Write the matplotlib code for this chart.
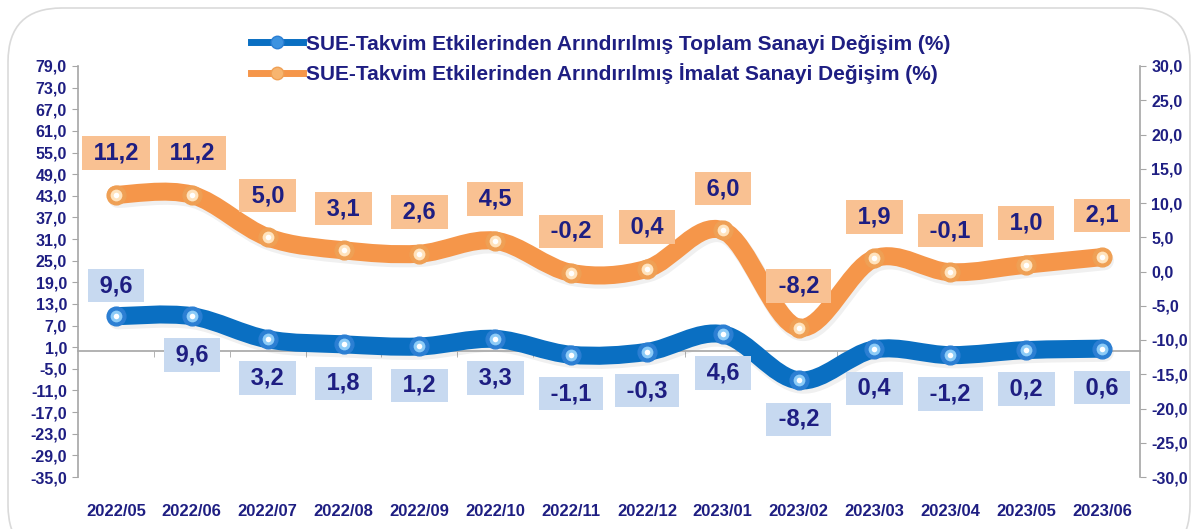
import matplotlib
matplotlib.use("Agg")
import matplotlib.pyplot as plt
import numpy as np
from matplotlib.path import Path
from matplotlib.patches import PathPatch, FancyBboxPatch
from matplotlib.lines import Line2D
from matplotlib.ticker import FuncFormatter, FixedLocator
import matplotlib.transforms as mtransforms

# ---------------- data ----------------
months = ["2022/05", "2022/06", "2022/07", "2022/08", "2022/09", "2022/10", "2022/11",
          "2022/12", "2023/01", "2023/02", "2023/03", "2023/04", "2023/05", "2023/06"]
toplam = [9.6, 9.6, 3.2, 1.8, 1.2, 3.3, -1.1, -0.3, 4.6, -8.2, 0.4, -1.2, 0.2, 0.6]
imalat = [11.2, 11.2, 5.0, 3.1, 2.6, 4.5, -0.2, 0.4, 6.0, -8.2, 1.9, -0.1, 1.0, 2.1]
label_toplam = "SUE-Takvim Etkilerinden Arındırılmış Toplam Sanayi Değişim (%)"
label_imalat = "SUE-Takvim Etkilerinden Arındırılmış İmalat Sanayi Değişim (%)"
left_ticks = list(range(-35, 80, 6))
right_ticks = list(range(-30, 31, 5))
# label placement: +1 above point, -1 below point
toplam_side = [1] + [-1] * 13

# ---------------- style ----------------
FONT = "Liberation Sans"
NAVY = "#1E1E82"
BLUE = "#0A6FC2"
ORANGE = "#F5964A"
BLUE_BOX = "#C7D9F0"
ORANGE_BOX = "#F9C192"
GRID_GRAY = "#A6A6A6"

plt.rcParams["font.family"] = [FONT, "DejaVu Sans"]

W, H = 1198, 529
fig = plt.figure(figsize=(W / 100, H / 100), dpi=100)
fig.patch.set_facecolor("white")

# rounded outer frame (top corners visible, bottom runs off the image)
frame = FancyBboxPatch((8 / W, -30 / H), (W - 16) / W, (H - 8 + 30) / H,
                       boxstyle="round,pad=0,rounding_size=0.045",
                       transform=fig.transFigure, fc="none", ec="#DADADA", lw=1.2,
                       mutation_aspect=W / H, zorder=-5)
fig.patches.append(frame)

ax = fig.add_axes([78 / W, 1 - 477 / H, (1140 - 78) / W, (477 - 66) / H])
ax.set_facecolor("none")
ax2 = ax.twinx()

x = np.arange(len(months))
ax.set_xlim(-0.5, len(months) - 0.5)
ax.set_ylim(-35, 79)
ax2.set_ylim(-30, 30)

fmt = FuncFormatter(lambda v, p: f"{v:.1f}".replace(".", ","))
ax.yaxis.set_major_locator(FixedLocator(left_ticks))
ax.yaxis.set_major_formatter(fmt)
ax2.yaxis.set_major_locator(FixedLocator(right_ticks))
ax2.yaxis.set_major_formatter(fmt)

for a in (ax, ax2):
    for s in a.spines.values():
        s.set_visible(False)
ax.spines["left"].set_visible(True)
ax.spines["left"].set_color(GRID_GRAY)
ax.spines["left"].set_linewidth(1.2)
ax2.spines["right"].set_visible(True)
ax2.spines["right"].set_color(GRID_GRAY)
ax2.spines["right"].set_linewidth(1.2)
ax.spines["bottom"].set_visible(True)
ax.spines["bottom"].set_position(("data", 0))
ax.spines["bottom"].set_color(GRID_GRAY)
ax.spines["bottom"].set_linewidth(1.2)

ax.tick_params(axis="y", length=4, color=GRID_GRAY, labelcolor=NAVY, pad=4)
ax2.tick_params(axis="y", length=4, color=GRID_GRAY, labelcolor=NAVY, pad=4)
for lbl in ax.get_yticklabels() + ax2.get_yticklabels():
    lbl.set_fontweight("bold")
    lbl.set_fontsize(11.5)
ax.set_xticks(x)
ax.set_xticklabels([])
ax.tick_params(axis="x", which="major", length=0)
ax.xaxis.set_minor_locator(FixedLocator(np.arange(0.5, len(months) - 1, 1.0)))
ax.tick_params(axis="x", which="minor", length=4, color=GRID_GRAY, direction="out")

# x category labels at bottom
trans = mtransforms.blended_transform_factory(ax.transData, ax.transAxes)
for xi, m in zip(x, months):
    ax.text(xi, -0.085, m, transform=trans, ha="center", va="center",
            color=NAVY, fontsize=12, fontweight="bold")


def smooth_path(xs, ys):
    pts = np.column_stack([xs, ys]).astype(float)
    n = len(pts)
    verts = [pts[0]]
    codes = [Path.MOVETO]
    for i in range(n - 1):
        p0 = pts[i - 1] if i > 0 else pts[i]
        p1 = pts[i]
        p2 = pts[i + 1]
        p3 = pts[i + 2] if i + 2 < n else pts[i + 1]
        c1 = p1 + (p2 - p0) / 6.0
        c2 = p2 - (p3 - p1) / 6.0
        verts += [c1, c2, p2]
        codes += [Path.CURVE4] * 3
    return Path(verts, codes)


def draw_series(a, vals, color, base, light):
    shadow = PathPatch(smooth_path(x, vals), fc="none", ec="#000000", alpha=0.06,
                       lw=14, capstyle="round", joinstyle="round", zorder=2,
                       transform=a.transData + mtransforms.ScaledTranslation(1.5 / 72, -2.5 / 72, fig.dpi_scale_trans))
    a.add_patch(shadow)
    patch = PathPatch(smooth_path(x, vals), fc="none", ec=color, lw=13,
                      capstyle="round", joinstyle="round", zorder=3)
    a.add_patch(patch)
    a.plot(x, vals, ls="none", marker="o", ms=13.5, mfc=base, mec=base, zorder=4)
    a.plot(x, vals, ls="none", marker="o", ms=8.5, mfc=light, mec="none", zorder=5)
    a.plot(x, vals, ls="none", marker="o", ms=4, mfc="white", mec="none", zorder=6)


draw_series(ax, toplam, BLUE, "#2C7FD3", "#8CCBF7")
draw_series(ax2, imalat, ORANGE, "#EFA055", "#FFE3BD")

lab_font = dict(fontsize=17, fontweight="bold", color=NAVY)
for xi, v in zip(x, imalat):
    ax2.annotate(" " + f"{v:.1f}".replace(".", ",") + " ", (xi, v), xytext=(0, 30),
                 textcoords="offset points", ha="center", va="center", zorder=7,
                 bbox=dict(boxstyle="square,pad=0.22", fc=ORANGE_BOX, ec="none"),
                 **lab_font)
for xi, v, s in zip(x, toplam, toplam_side):
    off = 22 if s > 0 else -28
    ax.annotate(" " + f"{v:.1f}".replace(".", ",") + " ", (xi, v), xytext=(0, off),
                textcoords="offset points", ha="center", va="center", zorder=7,
                bbox=dict(boxstyle="square,pad=0.22", fc=BLUE_BOX, ec="none"),
                **lab_font)

# legend
h1 = Line2D([], [], color=BLUE, lw=5, marker="o", ms=9, mfc="#3D93E0", mec="#2C7FD3")
h2 = Line2D([], [], color=ORANGE, lw=5, marker="o", ms=9, mfc="#F7B570", mec="#EFA055")
leg = fig.legend([h1, h2], [label_toplam, label_imalat], loc="upper left",
                 bbox_to_anchor=(232 / W, 1 - 16 / H), frameon=False,
                 handlelength=2.5, handletextpad=0.15, labelspacing=0.45,
                 prop=dict(family=[FONT, "DejaVu Sans"], weight="bold", size=15))
for t in leg.get_texts():
    t.set_color(NAVY)

fig.savefig("out.png", dpi=100, facecolor="white")
